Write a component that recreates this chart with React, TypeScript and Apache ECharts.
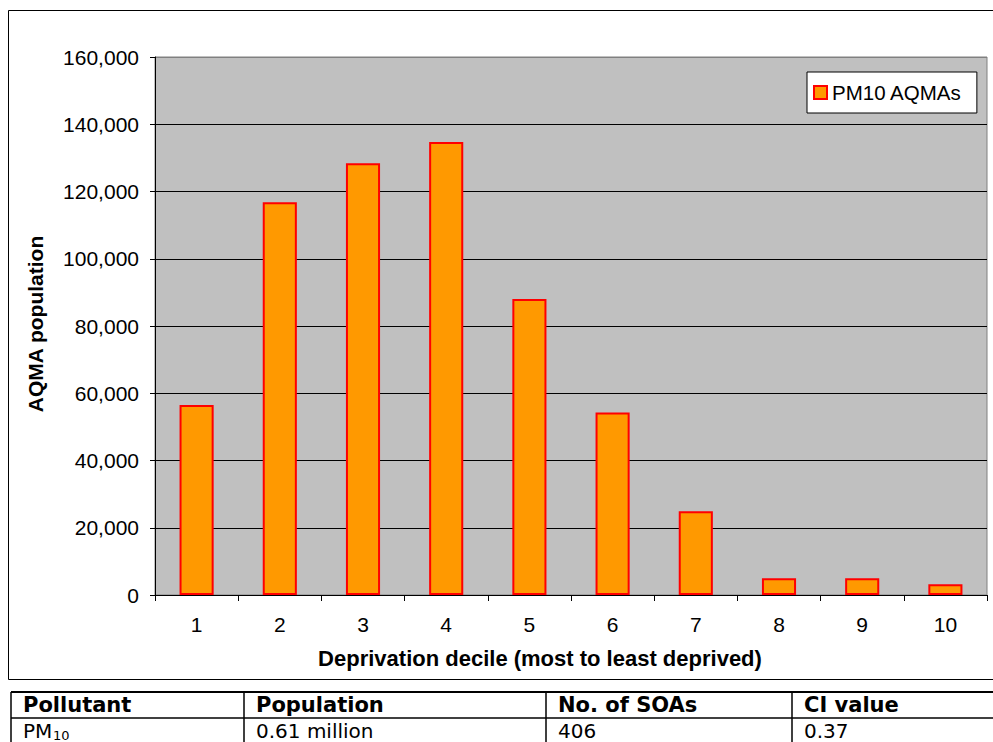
import React, { useEffect, useRef } from "react";
import * as echarts from "echarts";

const categories = ["1", "2", "3", "4", "5", "6", "7", "8", "9", "10"];
const pm10Values = [56500, 116800, 128400, 134700, 88000, 54300, 24900, 5000, 5000, 3200];
const seriesName = "PM10 AQMAs";
const yTitle = "AQMA population";
const xTitle = "Deprivation decile (most to least deprived)";
const tableHeaders = ["Pollutant", "Population", "No. of SOAs", "CI value"];
const tableRow = ["PM", "0.61 million", "406", "0.37"];
const pollutantSub = "10";

const CHART_FONT = "'Liberation Sans', Arial, sans-serif";
const TABLE_FONT = "'DejaVu Sans', Verdana, sans-serif";

export default function App() {
  const ref = useRef<HTMLDivElement>(null);
  useEffect(() => {
    if (!ref.current) return;
    const chart = echarts.init(ref.current, undefined, { renderer: "svg" });
    const colX = [11, 244, 546, 792];
    const tableRight = 1040;
    const rowY = [692, 718, 760];
    const tableGraphics: any[] = [];
    tableGraphics.push({
      type: "line",
      shape: { x1: colX[0], y1: rowY[0], x2: tableRight, y2: rowY[0] },
      style: { stroke: "#000", lineWidth: 2 },
    });
    tableGraphics.push({
      type: "line",
      shape: { x1: colX[0], y1: rowY[1], x2: tableRight, y2: rowY[1] },
      style: { stroke: "#000", lineWidth: 1.5 },
    });
    colX.forEach((x) => {
      tableGraphics.push({
        type: "line",
        shape: { x1: x, y1: rowY[0], x2: x, y2: rowY[2] },
        style: { stroke: "#000", lineWidth: 1.5 },
      });
    });
    tableHeaders.forEach((h, i) => {
      tableGraphics.push({
        type: "text",
        x: colX[i] + 12,
        y: 705,
        style: {
          text: h,
          font: `bold 21px ${TABLE_FONT}`,
          fill: "#000",
          textAlign: "left",
          textVerticalAlign: "middle",
        },
      });
    });
    tableRow.forEach((t, i) => {
      tableGraphics.push({
        type: "text",
        x: colX[i] + 12,
        y: 731,
        style: {
          text: t,
          font: `20px ${TABLE_FONT}`,
          fill: "#000",
          textAlign: "left",
          textVerticalAlign: "middle",
        },
      });
    });
    tableGraphics.push({
      type: "text",
      x: colX[0] + 12 + 30,
      y: 735,
      style: {
        text: pollutantSub,
        font: `13px ${TABLE_FONT}`,
        fill: "#000",
        textAlign: "left",
        textVerticalAlign: "middle",
      },
    });

    chart.setOption({
      animation: false,
      backgroundColor: "#ffffff",
      textStyle: { fontFamily: CHART_FONT },
      grid: {
        left: 155,
        right: 6,
        top: 57,
        bottom: 147,
        show: true,
        backgroundColor: "#c0c0c0",
        borderColor: "#808080",
        borderWidth: 1,
        containLabel: false,
      },
      legend: {
        show: true,
        left: 807,
        top: 72,
        orient: "vertical",
        padding: [10, 15, 10, 6],
        backgroundColor: "#ffffff",
        borderColor: "#000000",
        borderWidth: 1,
        borderRadius: 0,
        itemWidth: 13,
        itemHeight: 13,
        icon: "rect",
        textStyle: { fontSize: 20.5, color: "#000", fontFamily: CHART_FONT },
        data: [seriesName],
      },
      xAxis: {
        type: "category",
        data: categories,
        axisLine: { show: true, lineStyle: { color: "#000", width: 1 } },
        axisTick: { show: true, length: 6, lineStyle: { color: "#000" } },
        axisLabel: { fontSize: 21, color: "#000", margin: 19, fontFamily: CHART_FONT },
        splitLine: { show: false },
      },
      yAxis: {
        type: "value",
        min: 0,
        max: 160000,
        interval: 20000,
        axisLine: { show: true, lineStyle: { color: "#000", width: 1 } },
        axisTick: { show: true, length: 5, lineStyle: { color: "#000" } },
        axisLabel: {
          fontSize: 21,
          color: "#000",
          margin: 16,
          fontFamily: CHART_FONT,
          formatter: (v: number) => v.toLocaleString("en-US"),
        },
        splitLine: {
          show: true,
          lineStyle: {
            color: ["#000", "#000", "#000", "#000", "#000", "#000", "#000", "#000", "#808080"],
            width: 1,
          },
        },
      },
      series: [
        {
          name: seriesName,
          type: "bar",
          data: pm10Values,
          barWidth: "41%",
          itemStyle: { color: "#ff9900", borderColor: "#ff0000", borderWidth: 2 },
        },
      ],
      graphic: [
        {
          type: "rect",
          shape: { x: 8.5, y: 10.5, width: 1000, height: 669 },
          style: { fill: "none", stroke: "#000", lineWidth: 1 },
          silent: true,
          z: -1,
        },
        {
          type: "text",
          x: 540,
          y: 658,
          style: {
            text: xTitle,
            font: `bold 22px ${CHART_FONT}`,
            fill: "#000",
            textAlign: "center",
            textVerticalAlign: "middle",
          },
        },
        {
          type: "text",
          x: 35,
          y: 324,
          rotation: Math.PI / 2,
          style: {
            text: yTitle,
            font: `bold 21px ${CHART_FONT}`,
            fill: "#000",
            textAlign: "center",
            textVerticalAlign: "middle",
          },
        },
        ...tableGraphics,
      ],
    });
    return () => chart.dispose();
  }, []);
  return (
    <div
      ref={ref}
      style={{ position: "absolute", left: 0, top: 0, width: 993, height: 742 }}
    />
  );
}
